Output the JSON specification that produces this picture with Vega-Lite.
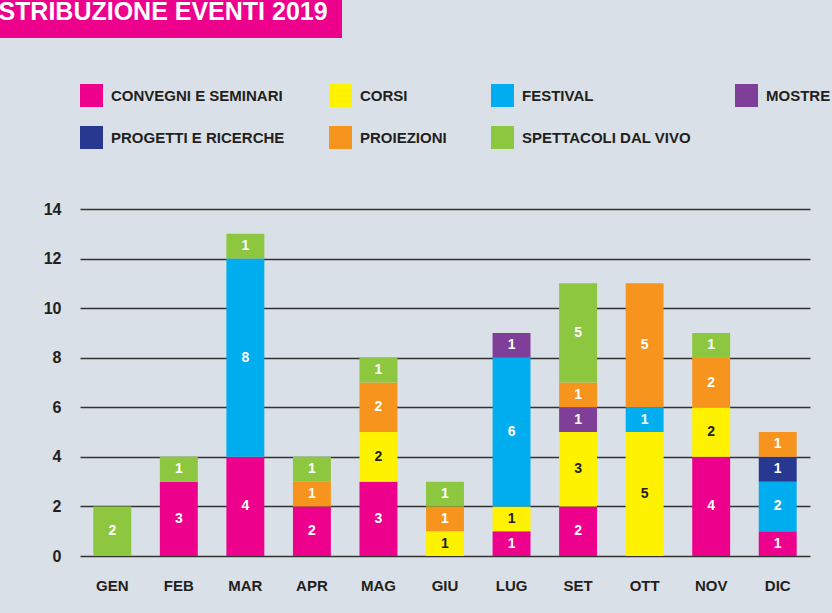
{
  "$schema": "https://vega.github.io/schema/vega-lite/v6.json",
  "background": "#dae0e7",
  "padding": {"left": -2, "top": 0, "right": 40, "bottom": 40},
  "spacing": 163,
  "config": {"view": {"stroke": null}, "font": "Liberation Sans"},
  "vconcat": [
    {
      "width": 342,
      "height": 38,
      "view": {"fill": "#ec008c", "stroke": null},
      "data": {"values": [{"t": "STRIBUZIONE EVENTI 2019"}]},
      "mark": {"type": "text", "align": "center", "baseline": "alphabetic", "fontSize": 25, "fontWeight": "bold", "color": "white", "dx": -8, "dy": 1, "font": "Liberation Sans"},
      "encoding": {"text": {"field": "t"}}
    },
    {
      "spacing": 0,
      "hconcat": [
        {
          "width": 1,
          "height": 1,
          "data": {"values": []},
          "mark": {"type": "point", "opacity": 0}
        },
        {
          "width": 730,
          "height": 347,
          "data": {"values": [
            {"mese": "GEN", "cat": "SPETTACOLI DAL VIVO", "n": 2, "label": 2},
            {"mese": "FEB", "cat": "CONVEGNI E SEMINARI", "n": 3, "label": 3},
            {"mese": "FEB", "cat": "SPETTACOLI DAL VIVO", "n": 1, "label": 1},
            {"mese": "MAR", "cat": "CONVEGNI E SEMINARI", "n": 4, "label": 4},
            {"mese": "MAR", "cat": "FESTIVAL", "n": 8, "label": 8},
            {"mese": "MAR", "cat": "SPETTACOLI DAL VIVO", "n": 1, "label": 1},
            {"mese": "APR", "cat": "CONVEGNI E SEMINARI", "n": 2, "label": 2},
            {"mese": "APR", "cat": "PROIEZIONI", "n": 1, "label": 1},
            {"mese": "APR", "cat": "SPETTACOLI DAL VIVO", "n": 1, "label": 1},
            {"mese": "MAG", "cat": "CONVEGNI E SEMINARI", "n": 3, "label": 3},
            {"mese": "MAG", "cat": "CORSI", "n": 2, "label": 2},
            {"mese": "MAG", "cat": "PROIEZIONI", "n": 2, "label": 2},
            {"mese": "MAG", "cat": "SPETTACOLI DAL VIVO", "n": 1, "label": 1},
            {"mese": "GIU", "cat": "CORSI", "n": 1, "label": 1},
            {"mese": "GIU", "cat": "PROIEZIONI", "n": 1, "label": 1},
            {"mese": "GIU", "cat": "SPETTACOLI DAL VIVO", "n": 1, "label": 1},
            {"mese": "LUG", "cat": "CONVEGNI E SEMINARI", "n": 1, "label": 1},
            {"mese": "LUG", "cat": "CORSI", "n": 1, "label": 1},
            {"mese": "LUG", "cat": "FESTIVAL", "n": 6, "label": 6},
            {"mese": "LUG", "cat": "MOSTRE", "n": 1, "label": 1},
            {"mese": "SET", "cat": "CONVEGNI E SEMINARI", "n": 2, "label": 2},
            {"mese": "SET", "cat": "CORSI", "n": 3, "label": 3},
            {"mese": "SET", "cat": "MOSTRE", "n": 1, "label": 1},
            {"mese": "SET", "cat": "PROIEZIONI", "n": 1, "label": 1},
            {"mese": "SET", "cat": "SPETTACOLI DAL VIVO", "n": 4, "label": 5},
            {"mese": "OTT", "cat": "CORSI", "n": 5, "label": 5},
            {"mese": "OTT", "cat": "FESTIVAL", "n": 1, "label": 1},
            {"mese": "OTT", "cat": "PROIEZIONI", "n": 5, "label": 5},
            {"mese": "NOV", "cat": "CONVEGNI E SEMINARI", "n": 4, "label": 4},
            {"mese": "NOV", "cat": "CORSI", "n": 2, "label": 2},
            {"mese": "NOV", "cat": "PROIEZIONI", "n": 2, "label": 2},
            {"mese": "NOV", "cat": "SPETTACOLI DAL VIVO", "n": 1, "label": 1},
            {"mese": "DIC", "cat": "CONVEGNI E SEMINARI", "n": 1, "label": 1},
            {"mese": "DIC", "cat": "FESTIVAL", "n": 2, "label": 2},
            {"mese": "DIC", "cat": "PROGETTI E RICERCHE", "n": 1, "label": 1},
            {"mese": "DIC", "cat": "PROIEZIONI", "n": 1, "label": 1}
          ]},
          "encoding": {
            "x": {
              "field": "mese", "type": "nominal",
              "sort": ["GEN", "FEB", "MAR", "APR", "MAG", "GIU", "LUG", "SET", "OTT", "NOV", "DIC"],
              "scale": {"paddingInner": 0.43, "paddingOuter": 0.2},
              "axis": {"title": null, "labelAngle": 0, "ticks": false, "domain": false, "grid": false, "labelPadding": 22, "labelFontSize": 15, "labelFontWeight": "bold", "labelColor": "#231f20", "labelFont": "Liberation Sans"}
            },
            "order": {"field": "cat", "sort": "ascending"}
          },
          "layer": [
            {
              "mark": {"type": "bar"},
              "encoding": {
                "y": {
                  "field": "n", "type": "quantitative", "stack": "zero",
                  "scale": {"domain": [0, 14], "nice": false},
                  "axis": {"title": null, "values": [0, 2, 4, 6, 8, 10, 12, 14], "ticks": false, "domain": false, "grid": true, "gridColor": "#333333", "gridWidth": 1.5, "labelPadding": 19, "labelFontSize": 16, "labelFontWeight": "bold", "labelColor": "#231f20", "labelFont": "Liberation Sans", "minExtent": 79}
                },
                "color": {
                  "field": "cat", "type": "nominal",
                  "scale": {
                    "domain": ["CONVEGNI E SEMINARI", "CORSI", "FESTIVAL", "MOSTRE", "PROGETTI E RICERCHE", "PROIEZIONI", "SPETTACOLI DAL VIVO"],
                    "range": ["#ec008c", "#fff200", "#00aeef", "#7f3f98", "#283891", "#f7941d", "#8dc63f"]
                  },
                  "legend": {"title": null, "orient": "none", "direction": "horizontal", "legendX": 80, "legendY": 84, "columns": 4, "columnPadding": 44, "rowPadding": 19, "symbolType": "square", "symbolSize": 529, "symbolStrokeWidth": 0, "symbolOpacity": 1, "labelFont": "Liberation Sans", "labelFontSize": 15, "labelFontWeight": "bold", "labelColor": "#231f20", "labelOffset": 8, "labelLimit": 600, "padding": 0}
                }
              }
            },
            {
              "mark": {"type": "text", "baseline": "middle", "align": "center", "fontSize": 14, "fontWeight": "bold", "font": "Liberation Sans"},
              "encoding": {
                "y": {
                  "field": "n", "type": "quantitative", "stack": "zero", "bandPosition": 0.5,
                  "scale": {"domain": [0, 14], "nice": false},
                  "axis": {"title": null, "values": [0, 2, 4, 6, 8, 10, 12, 14], "ticks": false, "domain": false, "grid": true, "gridColor": "#333333", "gridWidth": 1.5, "labelPadding": 19, "labelFontSize": 16, "labelFontWeight": "bold", "labelColor": "#231f20", "labelFont": "Liberation Sans", "minExtent": 79}
                },
                "detail": {"field": "cat"},
                "text": {"field": "label", "type": "quantitative"},
                "color": {"condition": {"test": "datum.cat === 'CORSI'", "value": "#231f20"}, "value": "white"}
              }
            }
          ]
        }
      ]
    }
  ]
}
